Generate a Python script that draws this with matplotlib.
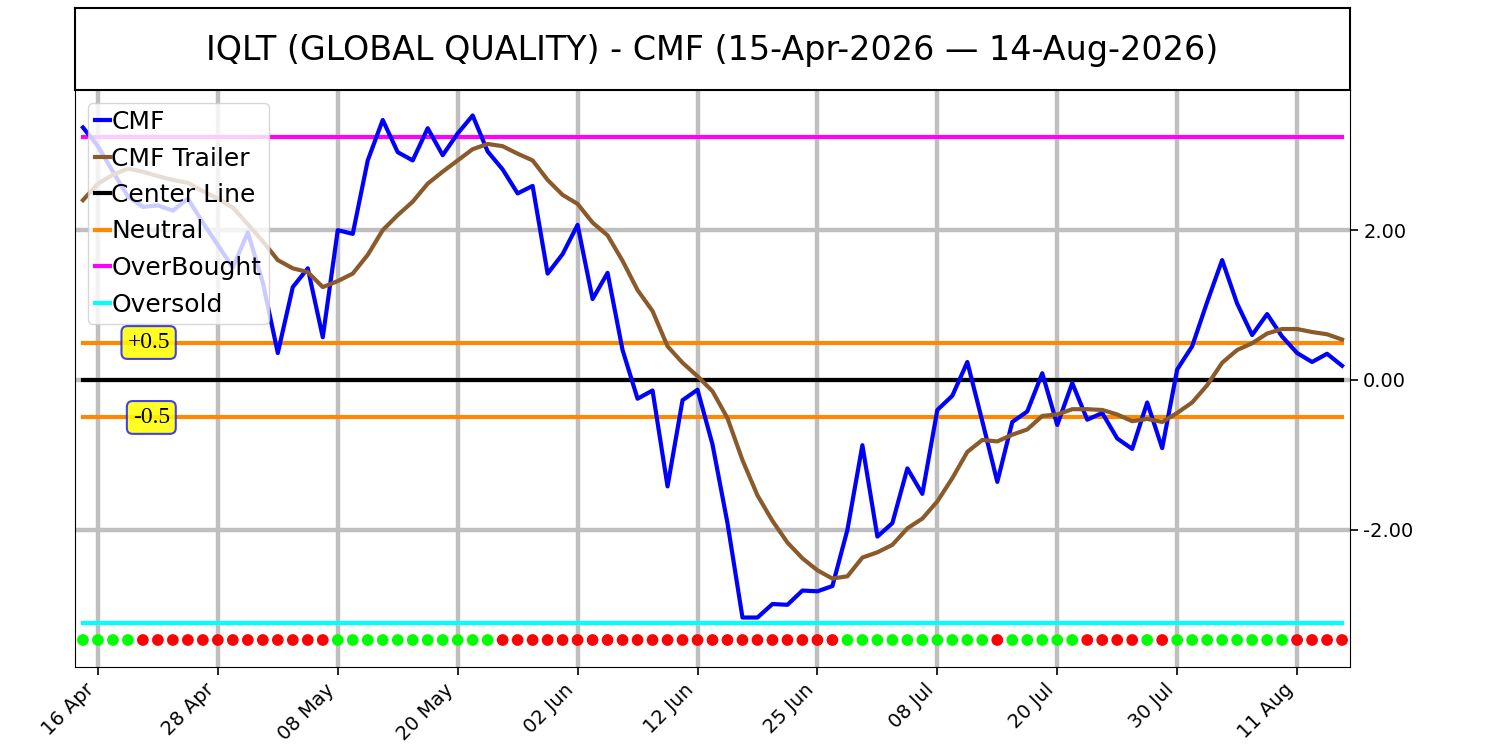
import numpy as np
import pandas as pd
import matplotlib
matplotlib.use("Agg")
import matplotlib.pyplot as plt

# trading days 15-Apr-2026 .. 14-Aug-2026 (NYSE holidays skipped)
holidays = ["2026-05-25", "2026-06-19", "2026-07-03"]
dates = pd.bdate_range("2026-04-15", "2026-08-14", freq="C", holidays=holidays)

cmf = [3.37, 3.12, 2.78, 2.45, 2.31, 2.33, 2.26, 2.42, 2.10, 1.80,
       1.50, 1.97, 1.30, 0.36, 1.24, 1.49, 0.57, 2.00, 1.95, 2.93,
       3.47, 3.04, 2.93, 3.36, 3.00, 3.29, 3.53, 3.05, 2.81, 2.49,
       2.59, 1.42, 1.68, 2.07, 1.08, 1.43, 0.40, -0.25, -0.14, -1.42,
       -0.27, -0.13, -0.86, -1.91, -3.17, -3.17, -2.99, -3.00, -2.81, -2.82,
       -2.75, -2.00, -0.87, -2.09, -1.91, -1.18, -1.52, -0.40, -0.21, 0.24,
       -0.55, -1.36, -0.56, -0.42, 0.09, -0.60, -0.04, -0.53, -0.44, -0.78,
       -0.92, -0.30, -0.91, 0.14, 0.45, 1.04, 1.60, 1.02, 0.60, 0.88,
       0.58, 0.36, 0.24, 0.35, 0.19]

cmf_trailer = [2.40, 2.62, 2.74, 2.82, 2.78, 2.72, 2.67, 2.63, 2.52, 2.42,
               2.30, 2.08, 1.85, 1.60, 1.49, 1.44, 1.24, 1.32, 1.42, 1.67,
               2.00, 2.20, 2.38, 2.62, 2.78, 2.93, 3.08, 3.15, 3.12, 3.02,
               2.93, 2.67, 2.47, 2.35, 2.10, 1.93, 1.59, 1.20, 0.92, 0.45,
               0.23, 0.05, -0.15, -0.51, -1.07, -1.54, -1.88, -2.17, -2.38, -2.54,
               -2.65, -2.62, -2.37, -2.30, -2.20, -1.98, -1.85, -1.62, -1.31, -0.96,
               -0.80, -0.82, -0.73, -0.66, -0.48, -0.46, -0.39, -0.39, -0.40, -0.46,
               -0.55, -0.52, -0.56, -0.44, -0.30, -0.07, 0.23, 0.40, 0.49, 0.62,
               0.68, 0.68, 0.64, 0.61, 0.54]

# G = bullish dot, R = bearish dot
signal = ("GGGG" + "R" * 13 + "G" * 11 + "R" * 23 + "G" * 10 + "R"
          + "G" * 5 + "R" * 4 + "G" + "R" + "G" * 8 + "R" * 4)

center_level = 0.0
neutral_level = 0.5
overbought_level = 3.24
oversold_level = -3.24
signal_level = -3.47

title = "IQLT (GLOBAL QUALITY) - CMF (15-Apr-2026 \u2014 14-Aug-2026)"

n = len(cmf)
x = np.arange(n)
ones = np.ones(n)

fig = plt.figure(figsize=(15, 7.5), dpi=100)

# title box
tax = fig.add_axes([0.05, 0.88, 0.85, 0.109])
tax.set_xticks([])
tax.set_yticks([])
for s in tax.spines.values():
    s.set_linewidth(1.5)
tax.text(0.5, 0.48, title, ha="center", va="center", fontsize=24,
         transform=tax.transAxes)

ax = fig.add_axes([0.05, 0.1107, 0.85, 0.7693])

ax.plot(x, cmf, color="#0000ff", lw=3, label="CMF", zorder=5)
ax.plot(x, cmf_trailer, color="#8b5a2b", lw=3, label="CMF Trailer", zorder=5)
ax.plot(x, ones * center_level, color="black", lw=3, label="Center Line", zorder=4)
ax.plot(x, ones * neutral_level, color="#ff8800", lw=3, label="Neutral", zorder=4)
ax.plot(x, ones * -neutral_level, color="#ff8800", lw=3, zorder=4)
ax.plot(x, ones * overbought_level, color="#ff00ff", lw=3, label="OverBought", zorder=4)
ax.plot(x, ones * oversold_level, color="#00ffff", lw=3, label="Oversold", zorder=4)

dot_colors = ["#00ff00" if c == "G" else "#ff0000" for c in signal]
ax.scatter(x, ones * signal_level, c=dot_colors, s=55, zorder=6)

box = dict(boxstyle="round,pad=0.25", facecolor="yellow", edgecolor="#2222ee",
           lw=1.5, alpha=0.85)
ax.text(5.8, neutral_level, "+0.5", ha="right", va="center", fontsize=17,
        family="Liberation Serif", bbox=box, zorder=7)
ax.text(5.8, -neutral_level, "-0.5", ha="right", va="center", fontsize=17,
        family="Liberation Serif", bbox=box, zorder=7)

ax.set_xlim(-0.53, n - 0.47)
ax.set_ylim(-3.83, 3.87)

ticks = np.arange(1, n, 8)
ax.set_xticks(ticks)
ax.set_xticklabels(dates[ticks].strftime("%d %b"), rotation=45, ha="right",
                   fontsize=14)
ax.set_yticks([-2, 0, 2])
ax.yaxis.set_major_formatter(matplotlib.ticker.FormatStrFormatter("%.2f"))
ax.yaxis.tick_right()
ax.tick_params(axis="y", labelsize=14, length=6, width=1.2)
ax.tick_params(axis="x", length=6, width=1.2)
ax.grid(True, color="#bfbfbf", lw=3.2, zorder=0)
ax.set_axisbelow(True)

ax.legend(loc="upper left", fontsize=18, handlelength=0.6, handletextpad=0.05,
          borderaxespad=0.5, labelspacing=0.5, borderpad=0.3, framealpha=0.8)

fig.savefig("out.png", dpi=100)
